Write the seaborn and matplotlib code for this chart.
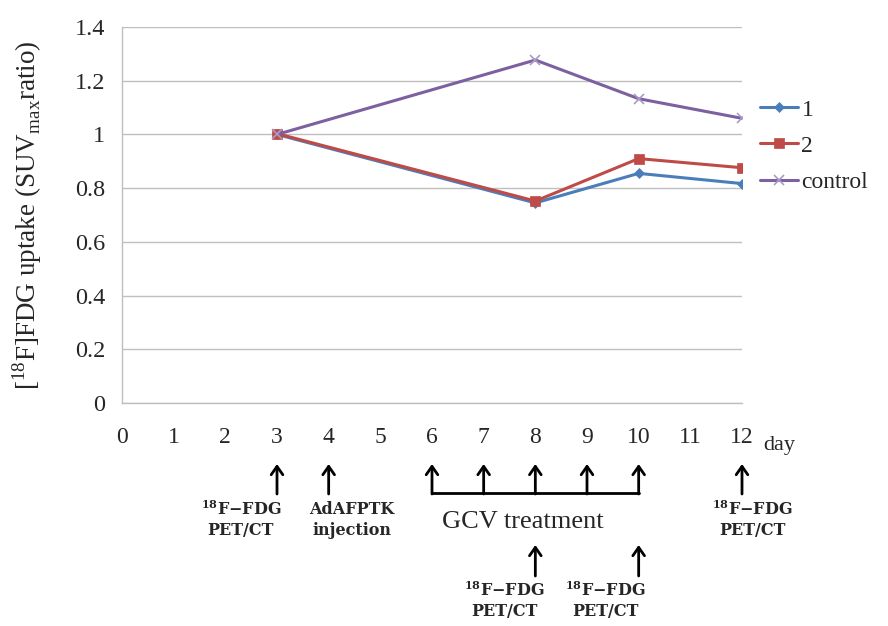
import matplotlib
matplotlib.use("Agg")
import matplotlib.pyplot as plt
import seaborn as sns
import pandas as pd

days = [3, 8, 10, 12]
series1 = [1.0, 0.745, 0.855, 0.817]
series2 = [1.003, 0.752, 0.910, 0.876]
control = [1.0, 1.277, 1.133, 1.060]
series_names = ["1", "2", "control"]
x_ticks = list(range(0, 13))
y_ticks = [0, 0.2, 0.4, 0.6, 0.8, 1.0, 1.2, 1.4]
y_tick_labels = ["0", "0.2", "0.4", "0.6", "0.8", "1", "1.2", "1.4"]

# events below the axis
pet_days_top = [3, 12]
injection_day = [4]
gcv_days = [6, 7, 8, 9, 10]
pet_days_bottom = [8, 10]

sns.set_theme(style="white")
plt.rcParams["font.family"] = ["Liberation Serif", "DejaVu Serif"]
plt.rcParams["mathtext.fontset"] = "custom"
plt.rcParams["mathtext.rm"] = "Liberation Serif"
plt.rcParams["mathtext.bf"] = "DejaVu Serif:bold"

fig = plt.figure(figsize=(8.88, 6.26), dpi=100)
ax = fig.add_axes([122/888, 1-403/626, 620/888, 376/626])

colors = ["#4a7ebb", "#be4b48", "#7d60a0"]
markers = ["D", "s", "x"]
msizes = [5, 7, 7]
frames = []
for name, vals in zip(series_names, [series1, series2, control]):
    frames.append(pd.DataFrame({"day": days, "value": vals, "series": name}))
df = pd.concat(frames, ignore_index=True)

for name, c, m, ms in zip(series_names, colors, markers, msizes):
    sub = df[df["series"] == name]
    mc = "#a99bc4" if name == "control" else c
    sns.lineplot(data=sub, x="day", y="value", ax=ax, color=c, lw=2.2,
                 marker=m, markersize=ms, markerfacecolor=mc, markeredgecolor=mc,
                 markeredgewidth=1.2 if name == "control" else 0.5, label=name)

ax.set_xlim(0, 12)
ax.set_ylim(0, 1.4)
ax.set_xticks(x_ticks)
ax.set_xticklabels([str(t) for t in x_ticks], fontsize=17)
ax.set_yticks(y_ticks)
ax.set_yticklabels(y_tick_labels, fontsize=17.5)
ax.tick_params(axis="x", length=0, pad=17)
ax.tick_params(axis="y", length=0, pad=12)
ax.grid(axis="y", color="#bfbfbf", lw=1)
ax.grid(axis="x", visible=False)
for s in ["top", "right"]:
    ax.spines[s].set_visible(False)
for s in ["left", "bottom"]:
    ax.spines[s].set_color("#bfbfbf")
    ax.spines[s].set_linewidth(1)
ax.set_xlabel("")
ax.set_ylabel(r"[$^{\mathregular{18}}$F]FDG uptake (SUV$_{\mathregular{max}}$ratio)",
              fontsize=19.5, labelpad=22)

ax.text(12.42, -0.16, "day", fontsize=16, ha="left", va="center",
        transform=ax.transData, clip_on=False)

leg = ax.legend(loc="upper left", bbox_to_anchor=(0.995, 0.865), frameon=False,
                fontsize=17, handlelength=1.6, handletextpad=0.15, labelspacing=0.62,
                borderaxespad=0.5)

# annotation helpers: y given in pixel rows of the 626-tall image
def fy(ypix):
    return (403 - ypix) / 376.0

tr = ax.get_xaxis_transform()
arrow_kw = dict(arrowstyle="->,head_width=0.35,head_length=0.5", lw=2, color="black",
                shrinkA=0, shrinkB=0)

def up_arrow(x, y0, y1):
    ax.annotate("", xy=(x, fy(y1)), xytext=(x, fy(y0)), xycoords=tr, textcoords=tr,
                arrowprops=arrow_kw, annotation_clip=False)

bold = dict(fontsize=11.5, fontweight="bold", family=["DejaVu Serif"], ha="center",
            va="center", transform=tr, clip_on=False, linespacing=1.25)
pet_label = "$\\mathbf{^{18}}$F\u2212FDG\nPET/CT"

for d in pet_days_top + injection_day + gcv_days:
    up_arrow(d, 494, 464)
for d in pet_days_bottom:
    up_arrow(d, 576, 545)

# GCV bracket
ax.plot([gcv_days[0], gcv_days[-1]], [fy(493), fy(493)], transform=tr, color="black",
        lw=2, clip_on=False)

ax.text(pet_days_top[0] - 0.7, fy(520), pet_label, **bold)
ax.text(pet_days_top[1] + 0.2, fy(520), pet_label, **bold)
ax.text(injection_day[0] + 0.45, fy(520), "AdAFPTK\ninjection", **bold)
ax.text(pet_days_bottom[0] - 0.6, fy(601), pet_label, **bold)
ax.text(pet_days_bottom[1] - 0.65, fy(601), pet_label, **bold)
ax.text(7.75, fy(522), "GCV treatment", fontsize=19, ha="center", va="center",
        transform=tr, clip_on=False)

fig.savefig("out.png", dpi=100)
